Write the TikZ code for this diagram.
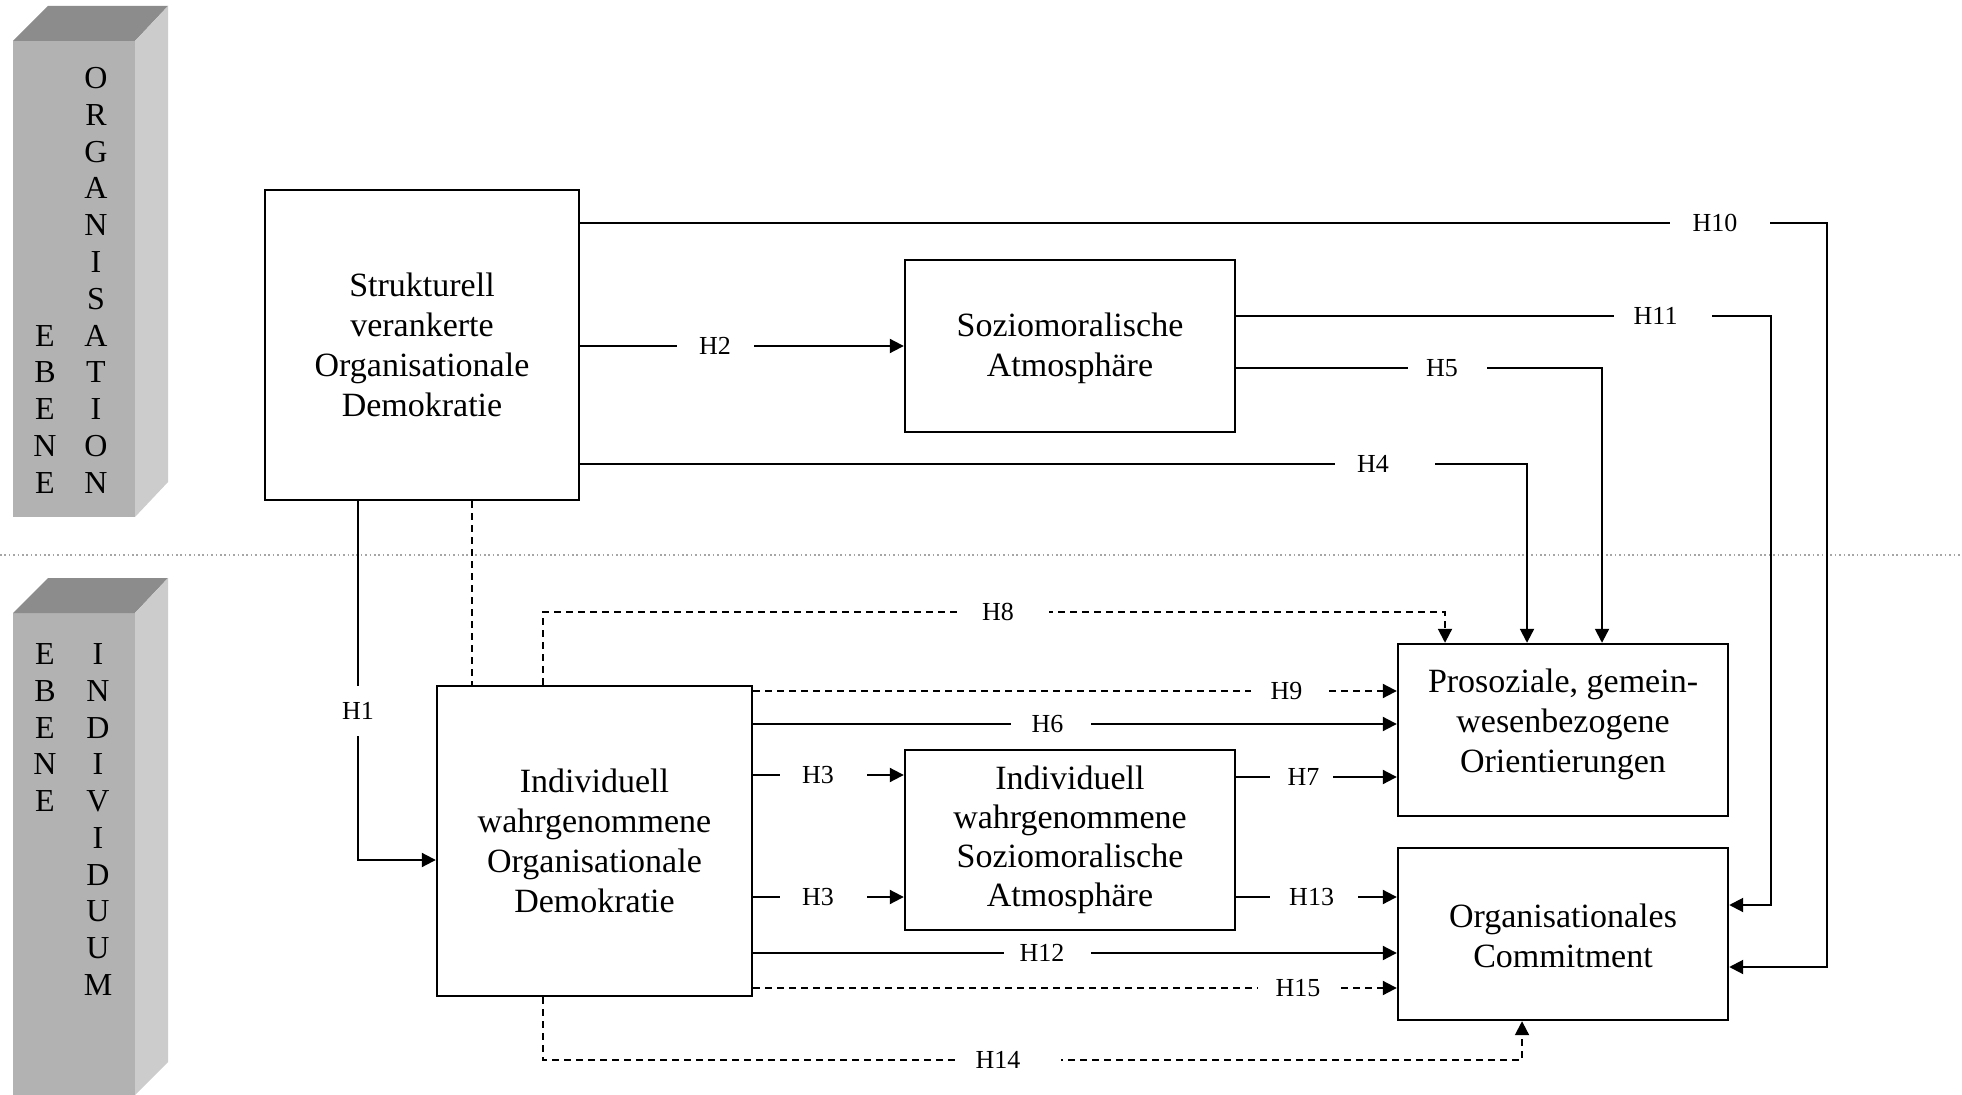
\documentclass[tikz,border=0pt]{standalone}
\usepackage{fontspec}
\setmainfont{Liberation Serif}
\usetikzlibrary{arrows.meta}
\definecolor{barfront}{HTML}{B2B2B2}
\definecolor{bartop}{HTML}{8C8C8C}
\definecolor{barside}{HTML}{CCCCCC}
\newcommand\labshift[2]{\kern#1\relax #2\kern-#1\relax}
\tikzset{
  box/.style={draw, line width=1.2pt, align=center, inner sep=0pt, font=\fontsize{17}{20}\selectfont},
  lab/.style={fill=white, inner sep=0pt, minimum height=13pt, font=\fontsize{13}{15}\selectfont},
  arr/.style={line width=1pt, -{Triangle[length=7pt,width=7pt]}},
  dasharr/.style={line width=1pt, dash pattern=on 3.5pt off 2.5pt, -{Triangle[length=7pt,width=7pt]}},
  dashline/.style={line width=1pt, dash pattern=on 3.5pt off 2.5pt},
  sepline/.style={gray!70, line width=0.8pt, dash pattern=on 0.8pt off 1.4pt},
  barletter/.style={inner sep=0pt, font=\fontsize{16}{18}\selectfont}
}
\begin{document}
\begin{tikzpicture}[x=0.5pt,y=-0.5pt]
\useasboundingbox (0,0) rectangle (1962,1095);
\fill[white] (0,0) rectangle (1962,1095);

% separator
\draw[sepline] (0,555) -- (1962,555);

% upper bar
\fill[barfront] (13,41) -- (135,41) -- (135,517) -- (13,517) -- cycle;
\fill[bartop] (13,41) -- (48,6) -- (168,6) -- (135,41) -- cycle;
\fill[barside] (135,41) -- (168,6) -- (168,482) -- (135,517) -- cycle;
% lower bar
\fill[barfront] (13,613) -- (135,613) -- (135,1095) -- (13,1095) -- cycle;
\fill[bartop] (13,613) -- (48,578) -- (168,578) -- (135,613) -- cycle;
\fill[barside] (135,613) -- (168,578) -- (168,1062) -- (135,1095) -- cycle;

\foreach \l [count=\i] in {O,R,G,A,N,I,S,A,T,I,O,N}
  \node[barletter] (org\i) at (96,{78+(\i-1)*36.8}) {\l};
\foreach \l [count=\i] in {E,B,E,N,E}
  \node[barletter] (ebo\i) at (45,{335.6+(\i-1)*36.8}) {\l};
\foreach \l [count=\i] in {E,B,E,N,E}
  \node[barletter] (ebu\i) at (45,{654+(\i-1)*36.8}) {\l};
\foreach \l [count=\i] in {I,N,D,I,V,I,D,U,U,M}
  \node[barletter] (ind\i) at (98,{654+(\i-1)*36.8}) {\l};

% boxes
\node[box, minimum width=157pt, minimum height=155pt] (A) at (422,345) {Strukturell\\verankerte\\Organisationale\\Demokratie};
\node[box, minimum width=165pt, minimum height=86pt] (B) at (1070,346) {\rule{0pt}{14pt}Soziomoralische\\Atmosphäre};
\node[box, minimum width=157.5pt, minimum height=155pt] (C) at (594.5,841) {Individuell\\wahrgenommene\\Organisationale\\Demokratie};
\node[box, minimum width=165pt, minimum height=90pt, font=\fontsize{17}{19.5}\selectfont] (D) at (1070,840) {Individuell\\wahrgenommene\\Soziomoralische\\Atmosphäre};
\node[box, minimum width=165pt, minimum height=86pt] (E) at (1563,730) {Prosoziale, gemein-\\wesenbezogene\\Orientierungen\\[-11pt]\mbox{}};
\node[box, minimum width=165pt, minimum height=86pt] (F) at (1563,934) {\rule{0pt}{14pt}Organisationales\\Commitment};

% bend coordinates
\coordinate (k10) at (1827,223);
\coordinate (k10b) at (1827,967);
\coordinate (k11) at (1771,316);
\coordinate (k11b) at (1771,905);
\coordinate (k5) at (1602,368);
\coordinate (k4) at (1527,464);
\coordinate (k1) at (358,860);
\coordinate (kd) at (472,600);
\coordinate (k8a) at (543,612);
\coordinate (k8b) at (1445,612);
\coordinate (k14a) at (543,1060);
\coordinate (k14b) at (1522,1060);
\coordinate (k9) at (1000,691);
\coordinate (k6) at (1000,724);
\coordinate (k3a) at (830,775);
\coordinate (k3b) at (830,897);
\coordinate (k7) at (1300,777);
\coordinate (k13) at (1300,897);
\coordinate (k12) at (1000,953);
\coordinate (k15) at (1000,988);

% connectors
\draw[arr] (A.east |- k10) -- (k10) -- (k10b) -- (k10b -| F.east);
\draw[arr] (B.east |- k11) -- (k11) -- (k11b) -- (k11b -| F.east);
\draw[arr] (B.east |- k5) -- (k5) -- (k5 |- E.north);
\draw[arr] (A.east |- k4) -- (k4) -- (k4 |- E.north);
\draw[arr] (A.east |- B.west) -- (B.west);
\draw[arr] (k1 |- A.south) -- (k1) -- (k1 -| C.west);
\draw[dashline] (kd |- A.south) -- (kd |- C.north);
\draw[dasharr] (k8a |- C.north) -- (k8a) -- (k8b) -- (k8b |- E.north);
\draw[dasharr] (k14a |- C.south) -- (k14a) -- (k14b) -- (k14b |- F.south);
\draw[dasharr] (C.east |- k9) -- (E.west |- k9);
\draw[arr] (C.east |- k6) -- (E.west |- k6);
\draw[arr] (C.east |- k3a) -- (D.west |- k3a);
\draw[arr] (C.east |- k3b) -- (D.west |- k3b);
\draw[arr] (D.east |- k7) -- (E.west |- k7);
\draw[arr] (D.east |- k13) -- (F.west |- k13);
\draw[arr] (C.east |- k12) -- (F.west |- k12);
\draw[dasharr] (C.east |- k15) -- (F.west |- k15);

% labels
\node[lab, minimum width=50pt] (l10) at (1720,223) {\labshift{-2.5pt}{H10}};
\node[lab, minimum width=49pt] (l11) at (1663,316) {\labshift{-3.7pt}{H11}};
\node[lab, minimum width=39.5pt] (l5) at (1447,368) {\labshift{-2.5pt}{H5}};
\node[lab, minimum width=50pt] (l4) at (1385,464) {\labshift{-6pt}{H4}};
\node[lab, minimum width=38.5pt] (l2) at (715,346) {H2};
\node[lab, minimum width=20pt, minimum height=25pt] (l1) at (358,711) {H1};
\node[lab, minimum width=46pt] (l8) at (1003,612) {\labshift{-2.5pt}{H8}};
\node[lab, minimum width=52pt] (l14) at (1009,1060) {\labshift{-5.5pt}{H14}};
\node[lab, minimum width=39pt] (l9) at (1290,691) {\labshift{-1.8pt}{H9}};
\node[lab, minimum width=40pt] (l6) at (1051,724) {\labshift{-1.8pt}{H6}};
\node[lab, minimum width=43.5pt] (l3a) at (823,775) {\labshift{-2.5pt}{H3}};
\node[lab, minimum width=43.5pt] (l3b) at (823,897) {\labshift{-2.5pt}{H3}};
\node[lab, minimum width=31.5pt] (l7) at (1301,777) {\labshift{1.2pt}{H7}};
\node[lab, minimum width=44pt] (l13) at (1314,897) {\labshift{-1.2pt}{H13}};
\node[lab, minimum width=43.5pt] (l12) at (1047,953) {\labshift{-2.5pt}{H12}};
\node[lab, minimum width=40.5pt] (l15) at (1298,988) {H15};
\end{tikzpicture}
\end{document}
